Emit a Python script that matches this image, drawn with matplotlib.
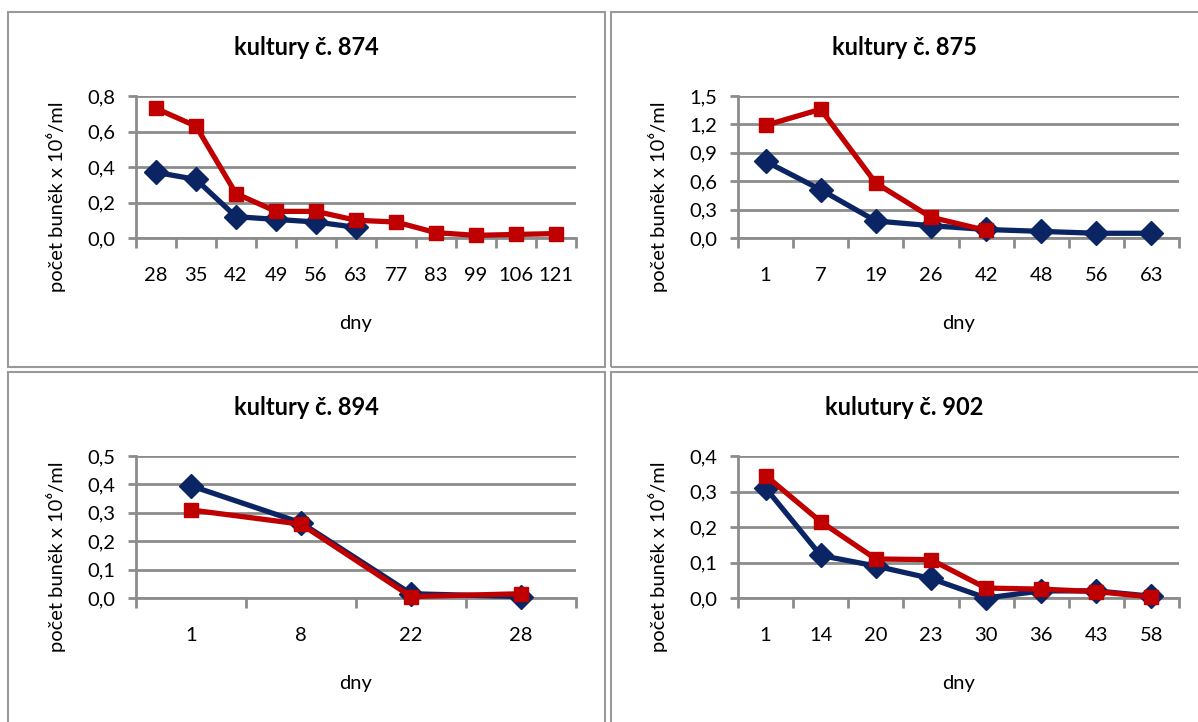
import numpy as np
from matplotlib import pyplot as plt
from matplotlib.patches import Rectangle

plt.rcParams['font.family'] = ['Lato', 'DejaVu Sans']

# data
days_874 = ['28', '35', '42', '49', '56', '63', '77', '83', '99', '106', '121']
blue_874 = [0.37, 0.33, 0.12, 0.105, 0.09, 0.06]
red_874 = [0.73, 0.63, 0.25, 0.15, 0.15, 0.10, 0.09, 0.03, 0.015, 0.02, 0.025]

days_875 = ['1', '7', '19', '26', '42', '48', '56', '63']
blue_875 = [0.81, 0.51, 0.18, 0.13, 0.09, 0.07, 0.05, 0.05]
red_875 = [1.19, 1.36, 0.58, 0.22, 0.08]

days_894 = ['1', '8', '22', '28']
blue_894 = [0.395, 0.265, 0.015, 0.005]
red_894 = [0.31, 0.26, 0.005, 0.015]

days_902 = ['1', '14', '20', '23', '30', '36', '43', '58']
blue_902 = [0.31, 0.12, 0.09, 0.055, 0.0, 0.02, 0.02, 0.005]
red_902 = [0.345, 0.215, 0.11, 0.108, 0.028, 0.025, 0.018, 0.003]

titles = ['kultury č. 874', 'kultury č. 875', 'kultury č. 894', 'kulutury č. 902']
ymaxes = [0.8, 1.5, 0.5, 0.4]
ysteps = [0.2, 0.3, 0.1, 0.1]

BLUE = '#0b2463'
RED = '#c00000'
GRID = '#8c8c8c'

W, H = 1198, 722
fig = plt.figure(figsize=(W / 100, H / 100), dpi=100)

def fx(px):
    return px / W

def fy(py):
    return 1 - py / H

# panel frames (pixels: x0, y0, x1, y1)
frames = [(8, 12, 605, 367), (611, 12, 1200, 367), (8, 372, 605, 730), (611, 372, 1200, 730)]
for x0, y0, x1, y1 in frames:
    fig.patches.append(Rectangle((fx(x0), fy(y1)), (x1 - x0) / W, (y1 - y0) / H,
                                 transform=fig.transFigure, fill=False, ec='#9a9a9a', lw=1.5))

# plot areas (pixels)
areas = [(136, 96, 576, 238), (738, 96, 1179, 238), (136, 456, 576, 598), (738, 456, 1179, 598)]
panels = [(days_874, blue_874, red_874), (days_875, blue_875, red_875),
          (days_894, blue_894, red_894), (days_902, blue_902, red_902)]

for i, ((x0, y0, x1, y1), (days, blue, red)) in enumerate(zip(areas, panels)):
    ax = fig.add_axes([fx(x0), fy(y1), (x1 - x0) / W, (y1 - y0) / H])
    n = len(days)
    ax.set_xlim(-0.5, n - 0.5)
    ax.set_ylim(0, ymaxes[i])
    yt = np.arange(0, ymaxes[i] + 1e-9, ysteps[i])
    ax.set_yticks(yt)
    ax.set_yticklabels([('%.1f' % v).replace('.', ',') for v in yt], fontsize=14.5)
    ax.yaxis.grid(True, color=GRID, lw=2)
    ax.set_axisbelow(True)

    ax.set_xticks(np.arange(-0.5, n, 1.0))
    ax.set_xticklabels([])
    ax.set_xticks(np.arange(n), minor=True)
    ax.set_xticklabels(days, minor=True, fontsize=14.5)
    ax.tick_params(axis='x', which='major', direction='out', length=7, width=2, color=GRID)
    ax.tick_params(axis='x', which='minor', length=0, pad=21)
    ax.tick_params(axis='y', direction='out', length=6, width=2, color=GRID, pad=9)

    for s in ['top', 'right']:
        ax.spines[s].set_visible(False)
    for s in ['left', 'bottom']:
        ax.spines[s].set_color(GRID)
        ax.spines[s].set_linewidth(2)

    ax.plot(np.arange(len(blue)), blue, color=BLUE, lw=3.8, marker='D', ms=12,
            clip_on=False, zorder=3)
    ax.plot(np.arange(len(red)), red, color=RED, lw=3.8, marker='s', ms=10.5,
            clip_on=False, zorder=4)

    # titles centred on the chart frame, axis titles like Excel
    fr = frames[i]
    fig.text(fx((fr[0] + min(fr[2], W)) / 2), fy(y0 - 41), titles[i],
             fontsize=17, fontweight='bold', ha='center', va='baseline')
    fig.text(fx((x0 + x1) / 2), fy(y1 + 85), 'dny', fontsize=14.5, ha='center', va='center')
    fig.text(fx(x0 - 80), fy(y0 + 101), 'počet buněk x 10⁶/ml', fontsize=14.5,
             rotation=90, ha='center', va='center')

fig.savefig('out.png', dpi=100)
